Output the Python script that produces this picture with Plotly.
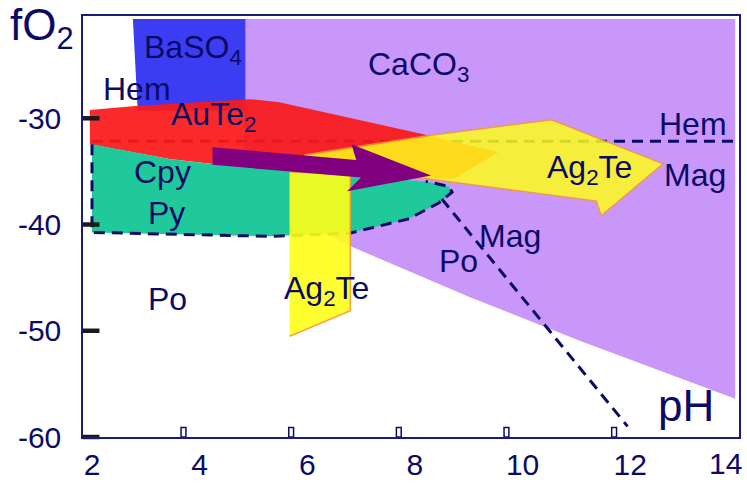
import plotly.graph_objects as go

# ---- stability fields (pH, log fO2) ----
caco3_ph = [4.83, 13.95, 13.95, 11.1, 9.0, 6.6, 5.6, 4.83]
caco3_fo2 = [-20.65, -20.65, -56.4, -51.0, -46.8, -41.6, -37.5, -33.0]

baso4_ph = [2.76, 4.85, 4.85, 2.85]
baso4_fo2 = [-20.65, -20.65, -29.3, -29.3]

aute2_ph = [1.96, 2.8, 4.93, 5.48, 8.26, 9.55, 8.72, 5.85, 4.24, 3.44, 1.96]
aute2_fo2 = [-29.22, -28.85, -28.2, -28.48, -31.61, -33.2, -35.7, -35.02, -34.29, -33.82, -32.44]

cpy_py_ph = [2.0, 3.44, 4.24, 5.85, 8.2, 8.63, 8.69, 8.44, 7.89, 6.78, 5.3, 2.0]
cpy_py_fo2 = [-32.44, -33.82, -34.29, -35.02, -35.94, -36.41, -36.96, -37.97, -39.45, -40.83, -41.11, -40.74]

# dashed outline of the Cpy-Py field
cpy_edge_ph = [2.0, 2.0, 5.3, 6.78, 7.89, 8.44, 8.69, 8.63, 8.2]
cpy_edge_fo2 = [-32.44, -40.74, -41.11, -40.83, -39.45, -37.97, -36.96, -36.41, -35.94]

# Hem / Mag boundary
hem_mag_ph = [2.0, 14.02]
hem_mag_fo2 = [-32.17, -32.17]

# Po / Mag boundary
po_mag_ph = [8.5, 11.95]
po_mag_fo2 = [-37.6, -59.0]

# Ag2Te fields
ag2te_arrow_ph = [5.94, 8.26, 10.54, 12.61, 11.46, 11.37, 8.17, 6.41]
ag2te_arrow_fo2 = [-33.46, -31.61, -30.14, -34.29, -39.17, -37.79, -35.67, -34.75]

ag2te_col_ph = [5.67, 6.80, 6.80, 5.67]
ag2te_col_fo2 = [-35.02, -35.3, -48.11, -50.51]

# fluid evolution path
path_ph = [4.24, 6.91, 6.82, 8.30, 6.74, 7.0, 4.24]
path_fo2 = [-32.72, -33.92, -32.44, -35.39, -36.87, -35.58, -34.38]

# ---- labels ----
label_text = ["BaSO<sub>4</sub>", "Hem", "AuTe<sub>2</sub>", "CaCO<sub>3</sub>", "Hem",
              "Ag<sub>2</sub>Te", "Mag", "Mag", "Po", "Cpy", "Py", "Po", "Ag<sub>2</sub>Te"]
label_ph = [3.87, 2.83, 4.26, 8.06, 13.17, 11.24, 13.2, 9.76, 8.8, 3.31, 3.39, 3.41, 6.35]
label_fo2 = [-23.5, -27.28, -29.86, -25.16, -30.5, -34.84, -35.3, -41.1, -43.4, -35.1, -38.9, -47.0, -46.18]

# ---- axes ----
x_ticks = [2, 4, 6, 8, 10, 12, 14]
y_ticks = [-30, -40, -50, -60]
y_marks = [-20, -30, -40, -50, -60]
x_marks = [3.7, 5.7, 7.7, 9.7, 11.7]

X_RANGE = [1.833, 14.02]
Y_RANGE = [-60, -20.37]

NAVY = "#0b0b66"
FONT = "Liberation Sans, Arial, sans-serif"

fig = go.Figure()


def field(xs, ys, color, opacity=1.0, line_color=None, line_width=0):
    fig.add_trace(go.Scatter(
        x=xs, y=ys, mode="lines", fill="toself", fillcolor=color,
        opacity=opacity,
        line=dict(color=line_color or color, width=line_width),
        hoverinfo="skip", showlegend=False,
    ))


def dashed(xs, ys):
    fig.add_trace(go.Scatter(
        x=xs, y=ys, mode="lines",
        line=dict(color=NAVY, width=3, dash="11px,7px"),
        hoverinfo="skip", showlegend=False,
    ))


field(caco3_ph, caco3_fo2, "#c996fa")
field(baso4_ph, baso4_fo2, "#3c3cf2")
dashed(hem_mag_ph, hem_mag_fo2)
field(aute2_ph, aute2_fo2, "#fa1a1a", opacity=0.93)
field(cpy_py_ph, cpy_py_fo2, "#20c99b")
dashed(cpy_edge_ph, cpy_edge_fo2)
dashed(po_mag_ph, po_mag_fo2)
field(ag2te_arrow_ph, ag2te_arrow_fo2, "#ffff1a", opacity=0.84,
      line_color="#f59a30", line_width=1.5)
field(ag2te_col_ph, ag2te_col_fo2, "#ffff1a", opacity=0.9,
      line_color="#f59a30", line_width=1.5)
field(path_ph, path_fo2, "#800080")

# heavy tick marks on the fO2 axis
fig.add_trace(go.Scatter(
    x=[X_RANGE[0] + 0.15] * len(y_marks), y=y_marks, mode="markers",
    marker=dict(symbol="line-ew", size=12, line=dict(width=4.5, color="#1a1a1a")),
    cliponaxis=False, hoverinfo="skip", showlegend=False,
))

# small open markers along the pH axis
for v in x_marks:
    fig.add_shape(type="rect", x0=v - 0.045, x1=v + 0.045, y0=-60, y1=-59.1,
                  line=dict(color=NAVY, width=1.5), fillcolor="white")

for t, x, y in zip(label_text, label_ph, label_fo2):
    fig.add_annotation(x=x, y=y, text=t, showarrow=False,
                       font=dict(family=FONT, size=32, color=NAVY),
                       xanchor="center", yanchor="middle")

fig.add_annotation(x=13.04, y=-57.05, text="pH", showarrow=False,
                   font=dict(family=FONT, size=44, color=NAVY),
                   xanchor="center", yanchor="middle")
fig.add_annotation(xref="paper", yref="paper", x=-0.062, y=0.972,
                   text="fO<sub>2</sub>", showarrow=False,
                   font=dict(family=FONT, size=44, color=NAVY),
                   xanchor="center", yanchor="middle")

# last pH label kept inside the frame
fig.add_annotation(x=x_ticks[-1], xanchor="right", xshift=6, yref="paper", y=0,
                   yanchor="top", yshift=-8, text=str(x_ticks[-1]), showarrow=False,
                   font=dict(family=FONT, size=30, color=NAVY))

fig.update_xaxes(
    range=X_RANGE, tickvals=x_ticks[:-1], ticktext=[str(v) for v in x_ticks[:-1]],
    showgrid=False, zeroline=False, showline=True, mirror=True,
    linecolor="#1b1b7a", linewidth=1.5, ticks="",
    tickfont=dict(family=FONT, size=30, color=NAVY),
)
fig.update_yaxes(
    range=Y_RANGE, tickvals=y_ticks, ticktext=[str(v) for v in y_ticks],
    showgrid=False, zeroline=False, showline=True, mirror=True,
    linecolor="#1b1b7a", linewidth=1.5, ticks="", ticklabelstandoff=14,
    tickfont=dict(family=FONT, size=30, color=NAVY),
)
fig.update_layout(
    width=747, height=487,
    margin=dict(l=83, r=6, t=16, b=41),
    paper_bgcolor="white", plot_bgcolor="white",
)

fig.write_html("out.html")
